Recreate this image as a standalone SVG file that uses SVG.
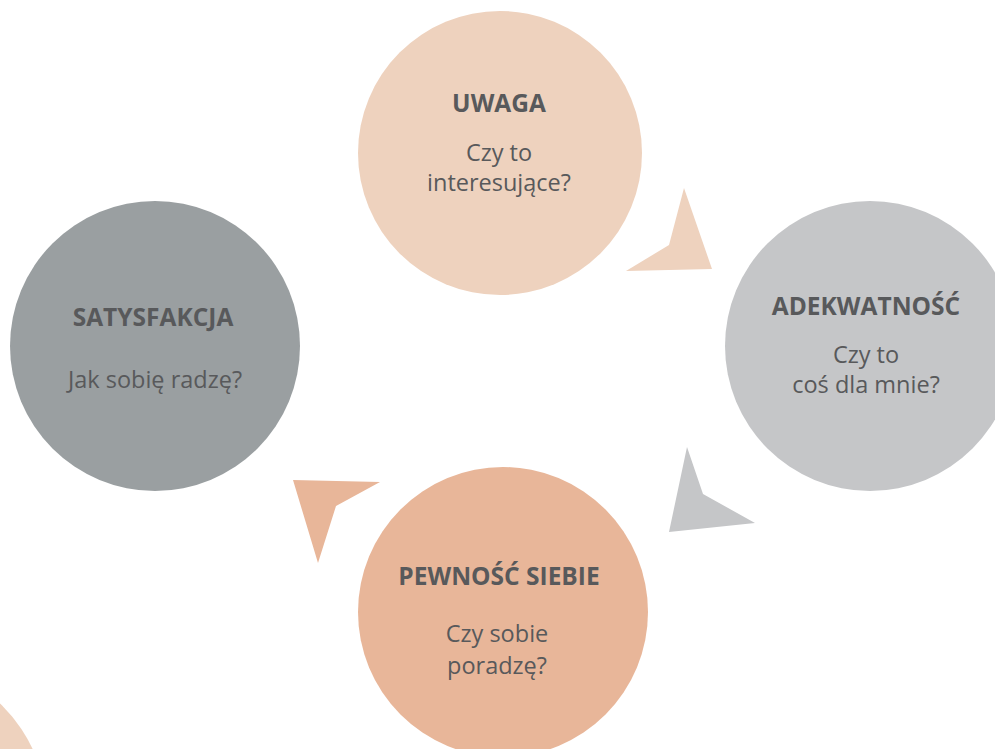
<svg xmlns="http://www.w3.org/2000/svg" width="995" height="749" viewBox="0 0 995 749">
<style>
.t{font-family:"Open Sans","Liberation Sans",sans-serif;font-size:23.5px;fill:#58595B;text-anchor:middle}
.b{font-weight:bold;font-size:24.5px}
</style>
<rect width="995" height="749" fill="#fff"/>
<circle cx="-100" cy="810" r="146" fill="#EED2BE"/>
<g id="connectors">
<polygon points="684,188 712,269 626,271 669,245" fill="#EED2BE"/>
<polygon points="687,447 703,494 755,523 669,532" fill="#C5C6C8"/>
<polygon points="293,480 380,482 336,506 318,563" fill="#E8B699"/>
</g>
<g id="uwaga">
<circle cx="500" cy="153" r="142" fill="#EED2BE"/>
<text class="t b" x="499" y="112">UWAGA</text>
<text class="t" x="499" y="161">Czy to</text>
<text class="t" x="499" y="191">interesujące?</text>
</g>
<g id="adekwatnosc">
<circle cx="870" cy="346" r="145" fill="#C5C6C8"/>
<text class="t b" x="866" y="315">ADEKWATNOŚĆ</text>
<text class="t" x="866" y="363">Czy to</text>
<text class="t" x="866" y="393">coś dla mnie?</text>
</g>
<g id="satysfakcja">
<circle cx="155" cy="346" r="145" fill="#9A9FA1"/>
<text class="t b" x="153" y="326">SATYSFAKCJA</text>
<text class="t" x="155" y="388">Jak sobię radzę?</text>
</g>
<g id="pewnosc">
<circle cx="503" cy="612" r="145" fill="#E8B699"/>
<text class="t b" x="499" y="585">PEWNOŚĆ SIEBIE</text>
<text class="t" x="497" y="642">Czy sobie</text>
<text class="t" x="497" y="674">poradzę?</text>
</g>
</svg>
